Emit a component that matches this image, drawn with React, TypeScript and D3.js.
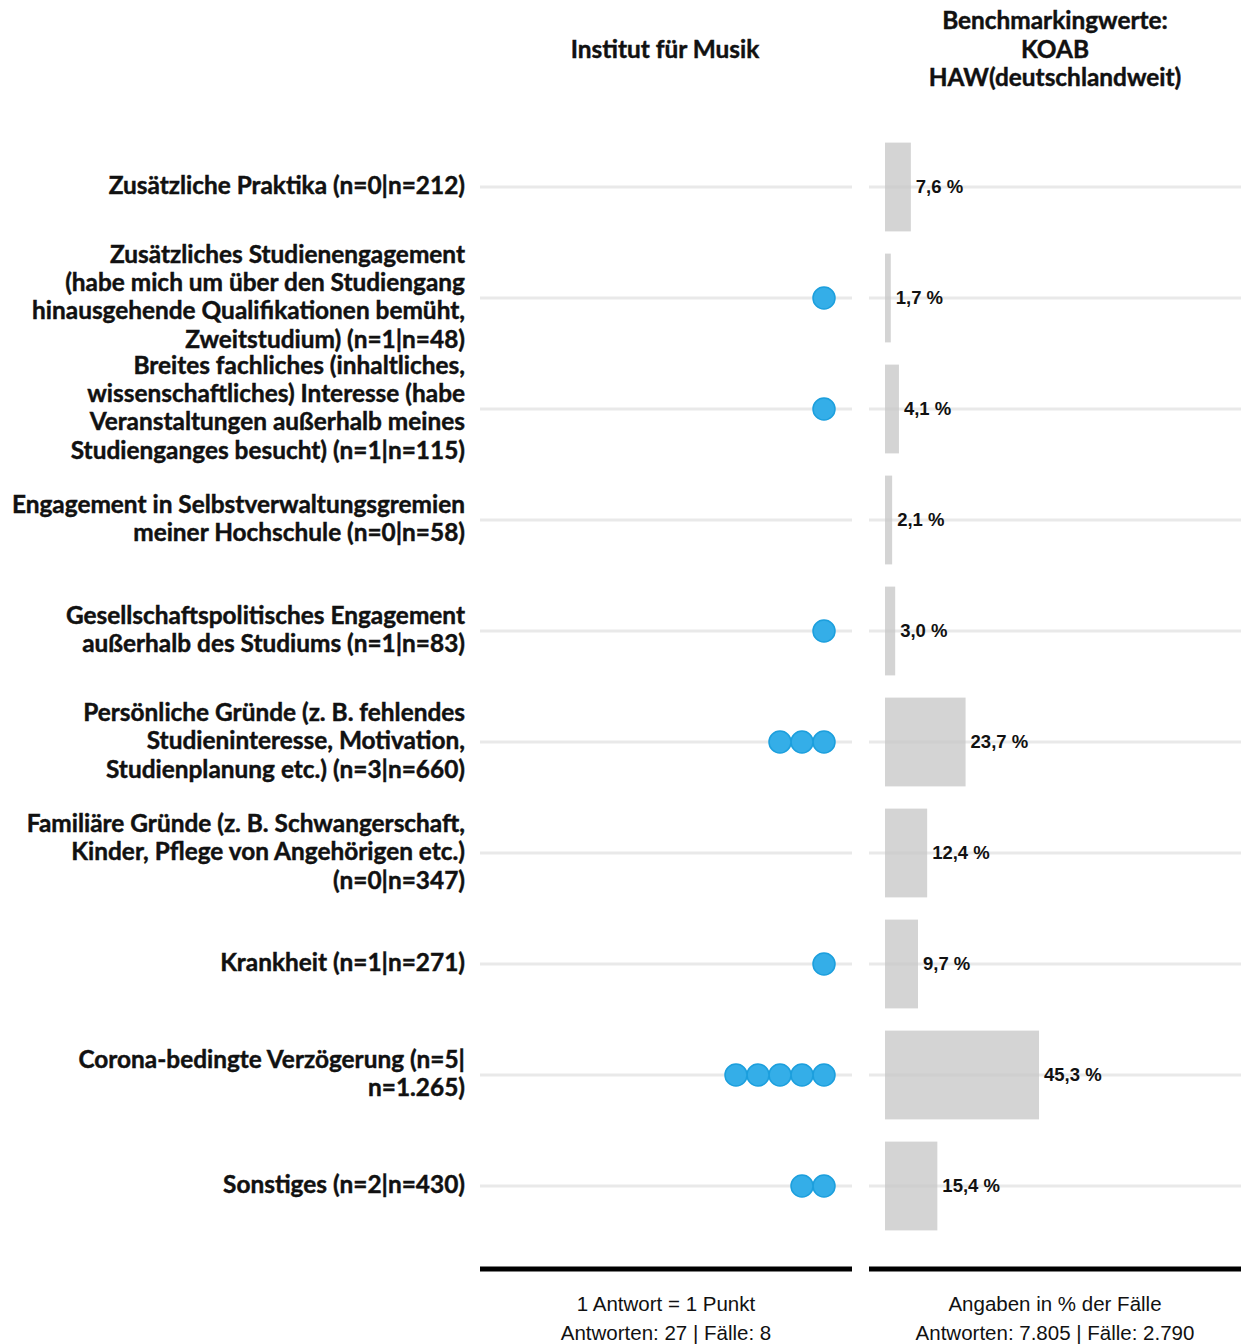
import React from 'react';
import * as d3 from 'd3';

// category labels, already broken into lines as in the original
const categories: string[][] = [
  ['Zusätzliche Praktika (n=0|n=212)'],
  [
    'Zusätzliches Studienengagement',
    '(habe mich um über den Studiengang',
    'hinausgehende Qualifikationen bemüht,',
    'Zweitstudium) (n=1|n=48)',
  ],
  [
    'Breites fachliches (inhaltliches,',
    'wissenschaftliches) Interesse (habe',
    'Veranstaltungen außerhalb meines',
    'Studienganges besucht) (n=1|n=115)',
  ],
  ['Engagement in Selbstverwaltungsgremien', 'meiner Hochschule (n=0|n=58)'],
  ['Gesellschaftspolitisches Engagement', 'außerhalb des Studiums (n=1|n=83)'],
  ['Persönliche Gründe (z. B. fehlendes', 'Studieninteresse, Motivation,', 'Studienplanung etc.) (n=3|n=660)'],
  ['Familiäre Gründe (z. B. Schwangerschaft,', 'Kinder, Pflege von Angehörigen etc.)', '(n=0|n=347)'],
  ['Krankheit (n=1|n=271)'],
  ['Corona-bedingte Verzögerung (n=5|', 'n=1.265)'],
  ['Sonstiges (n=2|n=430)'],
];

// institute answers (1 answer = 1 dot)
const counts: number[] = [0, 1, 1, 0, 1, 3, 0, 1, 5, 2];

// benchmark percentages
const benchmark: number[] = [7.6, 1.7, 4.1, 2.1, 3.0, 23.7, 12.4, 9.7, 45.3, 15.4];

const leftTitle = ['Institut für Musik'];
const rightTitle = ['Benchmarkingwerte:', 'KOAB', 'HAW(deutschlandweit)'];
const leftFooter = ['1 Antwort = 1 Punkt', 'Antworten: 27 | Fälle: 8'];
const rightFooter = ['Angaben in % der Fälle', 'Antworten: 7.805 | Fälle: 2.790'];

const W = 1251;
const H = 1344;
const labelFont = 'Lato, "Open Sans", sans-serif';
const numFont = '"Liberation Sans", Arial, sans-serif';
const labelSize = 24.4;

const App = () => {
  const keys = categories.map((_, i) => String(i));

  const y = d3
    .scaleBand<string>()
    .domain(keys)
    .range([131.5, 1241.5])
    .paddingInner(0.2)
    .paddingOuter(0.1);

  // left panel: dots stacked leftwards from the right edge
  const leftPanel = [480, 852];
  const dotR = 11;
  const dotX = d3.scaleLinear().domain([0, 10]).range([824, 824 - 10 * 2 * dotR]);

  // right panel: bars in percent
  const rightPanel = [869, 1241];
  const x = d3.scaleLinear().domain([0, 100]).range([885, 1225]);

  const fmt = (v: number) => d3.format('.1f')(v).replace('.', ',') + ' %';

  // slightly heavier bold, closer to the original's font
  const heavy = { stroke: '#111', strokeWidth: 0.45 };

  return (
    <div style={{ position: 'absolute', left: 0, top: 0 }}>
      <svg width={W} height={H} style={{ display: 'block', background: '#fff' }}>
        {/* headers */}
        <text x={665} y={52} textAnchor="middle" dominantBaseline="middle"
          fontFamily={labelFont} fontWeight={700} fontSize={labelSize} fill="#111" {...heavy}>
          {leftTitle[0]}
        </text>
        {rightTitle.map((t, i) => (
          <text key={t} x={1055} y={23 + i * 28.5} textAnchor="middle" dominantBaseline="middle"
            fontFamily={labelFont} fontWeight={700} fontSize={labelSize} fill="#111" {...heavy}>
            {t}
          </text>
        ))}

        {/* bars */}
        {benchmark.map((v, i) => (
          <rect key={'b' + i} x={x(0)} y={y(String(i))} width={x(v) - x(0)}
            height={y.bandwidth()} fill="#d4d4d4" />
        ))}

        {/* gridlines */}
        {keys.map((k) => {
          const cy = (y(k) as number) + y.bandwidth() / 2;
          return (
            <g key={'g' + k}>
              <line x1={leftPanel[0]} x2={leftPanel[1]} y1={cy} y2={cy}
                stroke="rgb(200,200,200)" strokeOpacity={0.4} strokeWidth={3} />
              <line x1={rightPanel[0]} x2={rightPanel[1]} y1={cy} y2={cy}
                stroke="rgb(200,200,200)" strokeOpacity={0.4} strokeWidth={3} />
            </g>
          );
        })}

        {/* value labels */}
        {benchmark.map((v, i) => (
          <text key={'v' + i} x={x(v) + 5} y={(y(String(i)) as number) + y.bandwidth() / 2 + 1}
            dominantBaseline="middle" fontFamily={numFont} fontWeight={700} fontSize={18.5} fill="#111">
            {fmt(v)}
          </text>
        ))}

        {/* dots */}
        {counts.map((c, i) =>
          d3.range(c).map((j) => (
            <circle key={'d' + i + '-' + j} cx={dotX(j)}
              cy={(y(String(i)) as number) + y.bandwidth() / 2}
              r={dotR} fill="#34aee8" stroke="#1c9fdd" strokeWidth={1.5} />
          ))
        )}

        {/* category labels */}
        {categories.map((lines, i) => {
          const cy = (y(String(i)) as number) + y.bandwidth() / 2 + 1;
          const lh = 28.3;
          const top = cy - ((lines.length - 1) * lh) / 2;
          return (
            <g key={'l' + i}>
              {lines.map((t, j) => (
                <text key={j} x={465} y={top + j * lh} textAnchor="end" dominantBaseline="middle"
                  fontFamily={labelFont} fontWeight={700} fontSize={labelSize} fill="#111" {...heavy}>
                  {t}
                </text>
              ))}
            </g>
          );
        })}

        {/* bottom axis bars */}
        <line x1={leftPanel[0]} x2={leftPanel[1]} y1={1269} y2={1269} stroke="#000" strokeWidth={5} />
        <line x1={rightPanel[0]} x2={rightPanel[1]} y1={1269} y2={1269} stroke="#000" strokeWidth={5} />

        {/* footers */}
        {leftFooter.map((t, i) => (
          <text key={'lf' + i} x={666} y={1306 + i * 29} textAnchor="middle" dominantBaseline="middle"
            fontFamily={numFont} fontSize={20.5} fill="#111">
            {t}
          </text>
        ))}
        {rightFooter.map((t, i) => (
          <text key={'rf' + i} x={1055} y={1306 + i * 29} textAnchor="middle" dominantBaseline="middle"
            fontFamily={numFont} fontSize={20.5} fill="#111">
            {t}
          </text>
        ))}
      </svg>
    </div>
  );
};

export default App;
